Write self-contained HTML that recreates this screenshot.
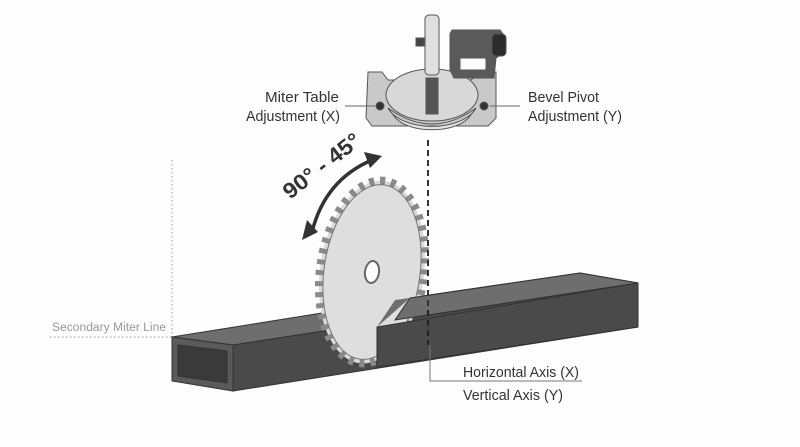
<!DOCTYPE html>
<html><head><meta charset="utf-8"><style>
html,body{margin:0;padding:0;background:#fdfdfd;}
svg{display:block}
text{font-family:"Liberation Sans",sans-serif;}
</style></head><body>
<svg width="800" height="447" viewBox="0 0 800 447" xmlns="http://www.w3.org/2000/svg">
<rect width="800" height="447" fill="#fdfdfd"/>
<path d="M172 160 V337 M50 337 H172" stroke="#aaa" stroke-width="1.2" stroke-dasharray="1.5 2.5" fill="none"/>
<text x="52" y="331" font-size="11.5" fill="#999" textLength="114" lengthAdjust="spacingAndGlyphs">Secondary Miter Line</text>

<g stroke="#555" stroke-width="1">
<path d="M368 72 L382 72 L388 80 L470 80 L486 72 L496 72 L496 118 L488 126 L372 126 L366 118 Z" fill="#c9c9c9"/>
<ellipse cx="432" cy="95" rx="46" ry="26" fill="#d8d8d8"/>
<path d="M388 108 A46 26 0 0 0 476 108 L470 116 A40 20 0 0 1 394 116 Z" fill="#e3e3e3"/>
<path d="M388 108 Q432 140 476 108" fill="none"/>
<rect x="426" y="78" width="12" height="36" fill="#555"/>
<rect x="425" y="15" width="14" height="60" rx="4" fill="#e0e0e0"/>
<path d="M452 30 H500 L506 38 V52 L496 58 L494 78 H454 L450 70 V34 Z" fill="#5a5a5a"/>
<path d="M460 58 H486 V70 H460 Z" fill="#fdfdfd"/>
<rect x="492" y="34" width="14" height="22" rx="4" fill="#2c2c2c"/>
<rect x="416" y="38" width="8" height="8" fill="#444"/>
<circle cx="380" cy="106" r="4" fill="#333"/>
<circle cx="484" cy="106" r="4" fill="#333"/>
</g>
<path d="M345 106 H375 M490 106 H520" stroke="#666" stroke-width="1"/>
<text x="265" y="102" font-size="15" fill="#333" textLength="74" lengthAdjust="spacingAndGlyphs">Miter Table</text>
<text x="246" y="121" font-size="15" fill="#333" textLength="94" lengthAdjust="spacingAndGlyphs">Adjustment (X)</text>
<text x="528" y="102" font-size="15" fill="#333" textLength="71" lengthAdjust="spacingAndGlyphs">Bevel Pivot</text>
<text x="528" y="121" font-size="15" fill="#333" textLength="94" lengthAdjust="spacingAndGlyphs">Adjustment (Y)</text>

<g stroke="#333" stroke-width="1">
<path d="M172 337 L322 313 L395 300 L580 273 L638 283 L233 345 Z" fill="#6e6e6e"/>
<path d="M233 345 L638 283 L638 327 L233 391 Z" fill="#4a4a4a"/>
<path d="M172 337 L233 345 L233 391 L172 381 Z" fill="#5a5a5a"/>
<path d="M178 345 L227 351 L227 383 L178 376 Z" fill="#3a3a3a"/>
</g>

<g transform="rotate(8 372 272)">
<ellipse cx="372" cy="272" rx="52" ry="92" fill="#d9d9d9" stroke="#8a8a8a" stroke-width="8" stroke-dasharray="5 6"/>
<ellipse cx="372" cy="272" rx="48" ry="88" fill="#dedede" stroke="#777" stroke-width="1"/>
<ellipse cx="372" cy="272" rx="7" ry="11" fill="#fdfdfd" stroke="#666" stroke-width="2"/>
</g>
<path d="M410 298 L580 273 L638 283 L395 320 Z" fill="#6e6e6e" stroke="#333" stroke-width="1"/>
<path d="M377 327 L638 283 L638 327 L377 367 Z" fill="#4a4a4a" stroke="#333" stroke-width="1"/>
<path d="M395 300 L410 298 L377 327 Z" fill="#6e6e6e"/>

<path d="M428 140 V310" stroke="#333" stroke-width="2" stroke-dasharray="6 4"/>
<path d="M428 310 V345" stroke="#222" stroke-width="2" stroke-dasharray="6 4"/>
<path d="M430 345 V381 H582" stroke="#777" stroke-width="1" fill="none"/>
<text x="463" y="377" font-size="15" fill="#333" textLength="116" lengthAdjust="spacingAndGlyphs">Horizontal Axis (X)</text>
<text x="463" y="400" font-size="15" fill="#333" textLength="100" lengthAdjust="spacingAndGlyphs">Vertical Axis (Y)</text>

<path d="M312 232 Q325 180 372 160" stroke="#333" stroke-width="3.5" fill="none"/>
<path d="M302 240 L307 220 L318 232 Z" fill="#333"/>
<path d="M382 156 L364 152 L370 168 Z" fill="#333"/>
<text x="0" y="0" font-size="22" font-weight="bold" fill="#333" transform="translate(290 200) rotate(-38)" textLength="92" lengthAdjust="spacingAndGlyphs">90° - 45°</text>
</svg>
</body></html>
